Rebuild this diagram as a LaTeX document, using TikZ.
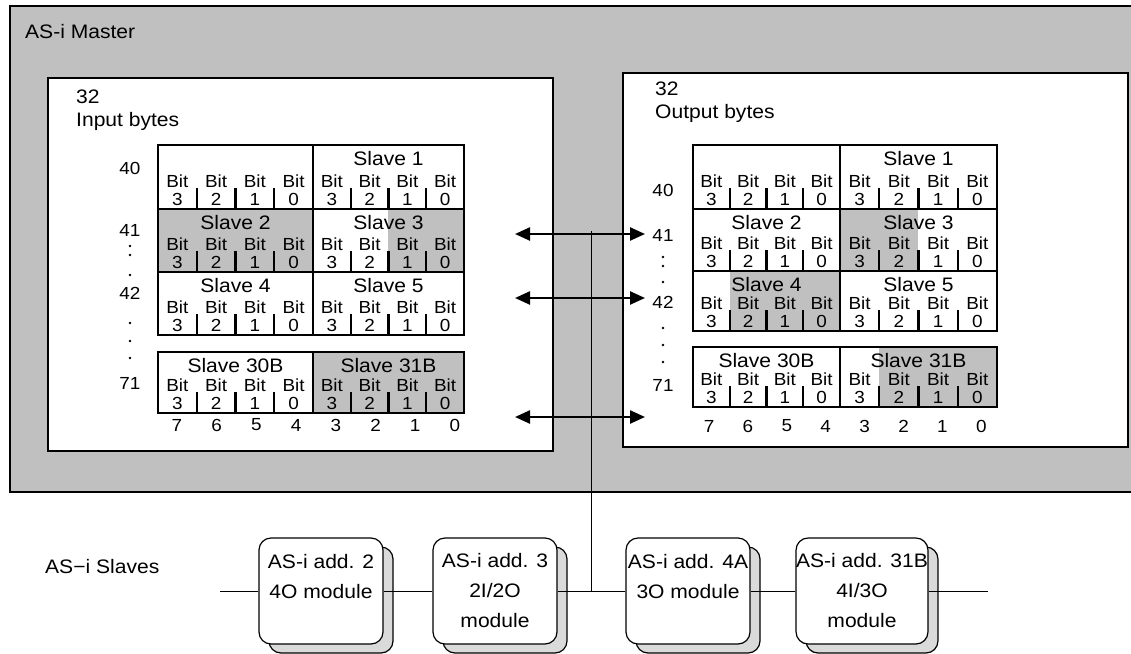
\documentclass[tikz,border=0pt]{standalone}
\usepackage{fontspec}
\setmainfont[FakeStretch=1.08]{Liberation Sans}
\usetikzlibrary{arrows.meta,shadows}

\definecolor{mastergray}{RGB}{192,192,192}
\definecolor{shadowgray}{RGB}{218,218,218}

\tikzset{
  boxframe/.style={draw, line width=2.6pt},
  rowline/.style={draw, line width=2.4pt},
  bittick/.style={line width=2.2pt},
  heading/.style={inner sep=0pt, font=\fontsize{19.5}{23}\selectfont},
  slavename/.style={inner sep=0pt, font=\fontsize{19.5}{20}\selectfont},
  bitname/.style={inner sep=0pt, align=center, font=\fontsize{17.5}{17.5}\selectfont},
  bytenum/.style={inner sep=0pt, font=\fontsize{17.5}{18}\selectfont},
  dataarrow/.style={{Triangle[length=15pt,width=13pt]}-{Triangle[length=15pt,width=13pt]}, line width=2.4pt},
  busline/.style={line width=0.9pt},
  module/.style={draw, line width=1.2pt, fill=white, rounded corners=12pt,
    minimum width=124pt, minimum height=106pt, inner sep=0pt, align=center,
    font=\fontsize{19.5}{30}\selectfont,
    copy shadow={fill=shadowgray, draw=black, shadow xshift=10pt, shadow yshift=-9pt}}
}

% one byte row: #1 name, #2 left x, #3 middle x, #4 right x, #5 top y, #6 height, #7 #8 slave names
\newcommand{\byterow}[8]{%
  \draw[rowline] (#2,#5) rectangle (#4,#5+#6);
  \draw[rowline] (#3,#5) -- (#3,#5+#6);
  \node[slavename] (#1-a) at ({(#2+#3)/2}, #5+14) {#7};
  \node[slavename] (#1-b) at ({(#3+#4)/2}, #5+14) {#8};
  \foreach \k in {0,1,2,3} {
    \node[bitname] (#1-a\k) at ({#2+(#3-#2)*(\k+0.5)/4}, #5+#6-19) {Bit\\\the\numexpr3-\k\relax};
    \node[bitname] (#1-b\k) at ({#3+(#4-#3)*(\k+0.5)/4}, #5+#6-19) {Bit\\\the\numexpr3-\k\relax};
  }
  \foreach \k in {1,2,3} {
    \draw[bittick] ({#2+(#3-#2)*\k/4}, #5+#6) -- ++(0,-21);
    \draw[bittick] ({#3+(#4-#3)*\k/4}, #5+#6) -- ++(0,-21);
  }
}

\begin{document}
\begin{tikzpicture}[x=1pt,y=-1pt]
  \useasboundingbox (0,0) rectangle (1131,653);
  \clip (0,0) rectangle (1131,653);

  % AS-i master
  \draw[boxframe, fill=mastergray] (10,6) rectangle (1140,492);
  \node[heading, anchor=west] (master) at (25,32) {AS-i Master};

  % input and output areas
  \draw[boxframe, fill=white] (48,78) rectangle (553,451);
  \draw[boxframe, fill=white] (623,73) rectangle (1128,447);
  \node[heading, anchor=north west, align=left] (inbytes) at (76,90) {32\\Input bytes};
  \node[heading, anchor=north west, align=left] (outbytes) at (655,82) {32\\Output bytes};

  % input bytes
  \fill[mastergray] (158,209) rectangle (313,272);
  \fill[mastergray] (388,209) rectangle (464,272);
  \fill[mastergray] (313,352) rectangle (464,413);
  \byterow{in40}{158}{313}{464}{145}{64}{}{Slave 1}
  \byterow{in41}{158}{313}{464}{209}{63}{Slave 2}{Slave 3}
  \byterow{in42}{158}{313}{464}{272}{63}{Slave 4}{Slave 5}
  \byterow{in71}{158}{313}{464}{352}{61}{Slave 30B}{Slave 31B}
  \foreach \n/\y in {40/168,41/230,42/293,71/383}
    \node[bytenum] (inrow\n) at (130,\y) {\n};
  \foreach \y in {246,255,275,323,341,358}
    \fill (130,\y) circle (1.3);
  \foreach \c in {0,...,7}
    \node[bytenum] (incol\c) at ({177+39.7*(7-\c)},425) {\c};

  % output bytes
  \fill[mastergray] (840,209) rectangle (918,271);
  \fill[mastergray] (730,271) rectangle (840,331);
  \fill[mastergray] (879,347) rectangle (997,407);
  \byterow{out40}{693}{840}{997}{145}{64}{}{Slave 1}
  \byterow{out41}{693}{840}{997}{209}{62}{Slave 2}{Slave 3}
  \byterow{out42}{693}{840}{997}{271}{60}{Slave 4}{Slave 5}
  \byterow{out71}{693}{840}{997}{347}{60}{Slave 30B}{Slave 31B}
  \foreach \n/\y in {40/190,41/235,42/302,71/385}
    \node[bytenum] (outrow\n) at (663,\y) {\n};
  \foreach \y in {257,266,282,328,345,362}
    \fill (663,\y) circle (1.3);
  \foreach \c in {0,...,7}
    \node[bytenum] (outcol\c) at ({709+38.9*(7-\c)},426) {\c};

  % data exchange
  \coordinate (inA) at (515,234);  \coordinate (outA) at (645,234);
  \coordinate (inB) at (515,298);  \coordinate (outB) at (645,298);
  \coordinate (inC) at (515,417);  \coordinate (outC) at (645,417);
  \draw[dataarrow] (inA) -- (outA);
  \draw[dataarrow] (inB) -- (outB);
  \draw[dataarrow] (inC) -- (outC);

  % AS-i slaves
  \node[heading, anchor=west] (slaves) at (45,567) {AS−i Slaves};
  \node[module] (m2) at (321,591) {AS-i add. 2\\4O module\\\mbox{}};
  \node[module] (m3) at (495,591) {AS-i add. 3\\2I/2O\\module};
  \node[module] (m4A) at (688,591) {AS-i add. 4A\\3O module\\\mbox{}};
  \node[module] (m31B) at (862,591) {AS-i add. 31B\\4I/3O\\module};

  % bus
  \coordinate (busL) at (220,591);
  \coordinate (busR) at (988,591);
  \coordinate (tapTop) at (591,231);
  \coordinate (tapBus) at (591,591);
  \draw[busline] (busL) -- (m2) -- (m3) -- (m4A) -- (m31B) -- (busR);
  \draw[busline] (tapTop) -- (tapBus);
\end{tikzpicture}
\end{document}
